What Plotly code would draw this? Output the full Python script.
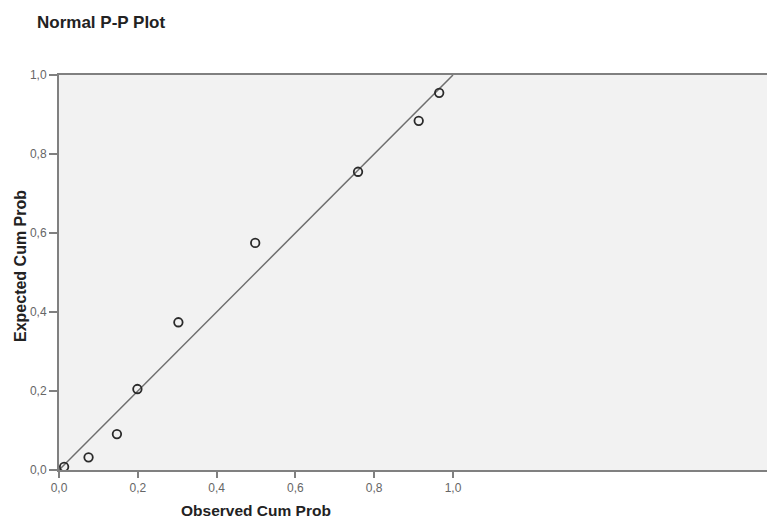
import plotly.graph_objects as go

observed = [0.013, 0.075, 0.147, 0.199, 0.303, 0.498, 0.759, 0.913, 0.965]
expected = [0.008, 0.032, 0.091, 0.205, 0.374, 0.575, 0.755, 0.884, 0.955]
ref_line = [0.0, 1.0]
tick_vals = [0.0, 0.2, 0.4, 0.6, 0.8, 1.0]

W, H = 767, 520
L, R, T, B = 59, 0, 75, 50
PW, PH = W - L - R, H - T - B

fig = go.Figure()
fig.add_trace(go.Scatter(x=ref_line, y=ref_line, mode="lines",
                         line=dict(color="#6e6e6e", width=1.5),
                         hoverinfo="skip", showlegend=False))
fig.add_trace(go.Scatter(x=observed, y=expected, mode="markers",
                         marker=dict(symbol="circle-open", size=8.5,
                                     color="#2a2a2a", line=dict(width=1.8)),
                         cliponaxis=False, showlegend=False))

fig.update_layout(
    width=W, height=H,
    margin=dict(l=L, r=R, t=T, b=B),
    paper_bgcolor="white", plot_bgcolor="#f2f2f2",
    separators=",.",
    font=dict(family="Liberation Sans, Arial, sans-serif", size=12, color="#666"),
    title=dict(text="<b>Normal P-P Plot</b>", x=37 / W, xanchor="left",
               y=1 - 22 / H, yanchor="middle",
               font=dict(size=17, color="#222")),
    xaxis=dict(range=[0, 1.797], tickvals=tick_vals, tickformat=".1f",
               showgrid=False, zeroline=False, showline=True,
               linecolor="#808080", linewidth=2, mirror=True,
               ticks="outside", ticklen=6, tickcolor="#808080", tickwidth=1.5),
    yaxis=dict(range=[0, 1.0], tickvals=tick_vals, tickformat=".1f",
               showgrid=False, zeroline=False, showline=True,
               linecolor="#808080", linewidth=2,
               ticks="outside", ticklen=8, tickcolor="#808080", tickwidth=1.5),
)
fig.add_annotation(text="<b>Observed Cum Prob</b>", xref="x", yref="paper",
                   x=0.5, y=-(510 - (H - B)) / PH, xanchor="center", yanchor="middle",
                   showarrow=False, font=dict(size=15.5, color="#222"))
fig.add_annotation(text="<b>Expected Cum Prob</b>", xref="paper", yref="paper",
                   x=(20 - L) / PW, y=((H - B) - 266) / PH, xanchor="center",
                   yanchor="middle", textangle=-90,
                   showarrow=False, font=dict(size=16, color="#222"))

fig.write_html("out.html", config={"displayModeBar": False},
               post_script="document.body.style.margin='0';document.body.style.overflow='hidden';")
